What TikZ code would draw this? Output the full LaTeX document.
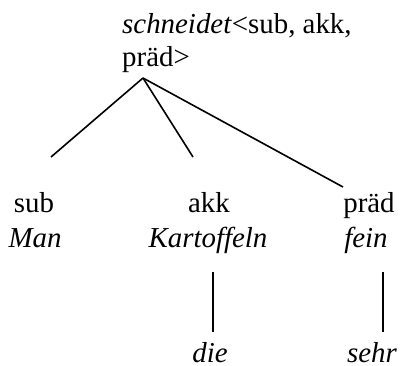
\documentclass[tikz,border=0pt]{standalone}
\usepackage{fontspec}
\setmainfont{Liberation Serif}
\begin{document}
\begin{tikzpicture}[x=1bp,y=-1bp,
  lbl/.style={inner sep=0pt,anchor=base,font=\fontsize{29}{33}\selectfont},
  edge/.style={line width=1.6bp}]
\useasboundingbox (0,0) rectangle (400,366);
\node[lbl,anchor=base west] (h1) at (122,33) {\textit{schneidet}<sub, akk,};
\node[lbl,anchor=base west] (h2) at (122,66) {präd>};
\coordinate (apex) at (143,78);
\coordinate (e1) at (51,157);
\coordinate (e2) at (193,157);
\coordinate (e3) at (343,187);
\node[lbl] (sub) at (34,212) {sub};
\node[lbl] (akk) at (209,212) {akk};
\node[lbl] (praed) at (369,212) {präd};
\node[lbl] (man) at (35,247) {\textit{Man}};
\node[lbl] (kart) at (208,247) {\textit{Kartoffeln}};
\node[lbl] (fein) at (366,247) {\textit{fein}};
\node[lbl] (die) at (210,362) {\textit{die}};
\node[lbl] (sehr) at (372,362) {\textit{sehr}};
\coordinate (v1a) at (213,272);
\coordinate (v1b) at (213,332);
\coordinate (v2a) at (383,272);
\coordinate (v2b) at (383,332);
\draw[edge] (apex) -- (e1);
\draw[edge] (apex) -- (e2);
\draw[edge] (apex) -- (e3);
\draw[edge] (v1a) -- (v1b);
\draw[edge] (v2a) -- (v2b);
\end{tikzpicture}
\end{document}
